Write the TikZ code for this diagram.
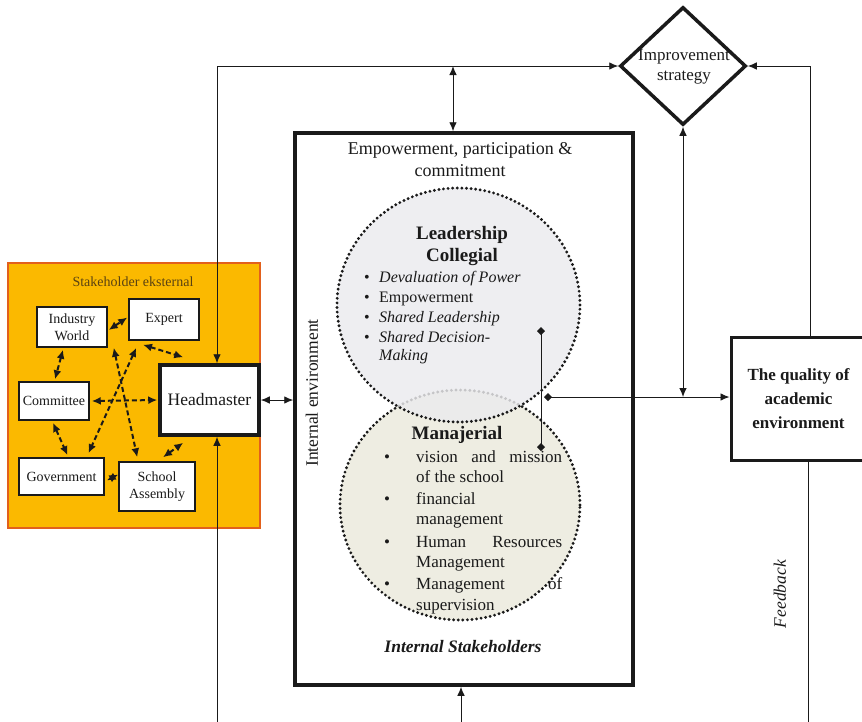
\documentclass[tikz,border=0pt]{standalone}
\usepackage{fontspec}
\setmainfont{Liberation Serif}
\usetikzlibrary{arrows.meta,shapes.geometric,calc}

\definecolor{stkfill}{HTML}{FBB900}
\definecolor{stkedge}{HTML}{E2601C}
\definecolor{stktext}{HTML}{5A4212}
\definecolor{leadfill}{HTML}{EBEBEE}
\definecolor{manfill}{HTML}{EEEDE2}
\definecolor{ink}{HTML}{1A1A1A}

\newcommand\fsz[2]{\fontsize{#1}{#2}\selectfont}

\tikzset{
  ah/.tip={Latex[length=9pt,width=7.5pt]},
  dh/.tip={Latex[length=9pt,width=8pt]},
  mk/.tip={Turned Square[length=8pt,width=8pt]},
  smallbox/.style={draw=ink, line width=1.5pt, fill=white, inner sep=1pt,
    align=center, text=ink, font=\fsz{14}{16.5}},
  bigbox/.style={draw=ink, line width=3.5pt, fill=white, inner sep=0pt, align=center, text=ink},
  dasharrow/.style={draw=ink, line width=2pt, dash pattern=on 5pt off 3pt, {dh}-{dh}},
  link/.style={draw=ink, line width=0.9pt},
  dotring/.style={draw=ink, line width=3.2pt, dash pattern=on 0pt off 4.6pt, line cap=round, ellipse, inner sep=0pt},
  txt/.style={inner sep=0pt, text=ink},
  item/.style={txt, anchor=base west, font=\fsz{16}{19}},
  mitem/.style={txt, anchor=base west, font=\fsz{17}{20}},
}

\begin{document}
\begin{tikzpicture}[x=1pt,y=-1pt]
\useasboundingbox (0,0) rectangle (862,721);

% ---------- external stakeholders ----------
\node[draw=stkedge, fill=stkfill, line width=1.2pt, minimum width=252, minimum height=265, inner sep=0pt] (ext) at (134,395.5) {};
\node[txt, text=stktext, font=\fsz{14}{16}] (extlbl) at (133,282) {Stakeholder eksternal};

\node[smallbox, minimum width=70, minimum height=40] (iw)  at (72,327)    {Industry\\World};
\node[smallbox, minimum width=70, minimum height=41] (ex)  at (164,319.5) {Expert};
\node[smallbox, minimum width=70, minimum height=38] (com) at (54,401)    {Committee};
\node[smallbox, minimum width=85, minimum height=37] (gov) at (61.5,476.5) {Government};
\node[smallbox, minimum width=76, minimum height=49] (sa)  at (157,486.5) {School\\Assembly};
\node[bigbox, minimum width=99, minimum height=70, font=\fsz{17.5}{20}] (hm) at (209.5,400) {Headmaster};

% dashed relations between stakeholders
\draw[dasharrow] ($(iw.east)+(1,3)$) -- ($(ex.west)+(-1,-2)$);
\draw[dasharrow] ($(iw.south)+(-9,2)$) -- ($(com.north)+(1,-2)$);
\draw[dasharrow] ($(com.east)+(2,0)$) -- ($(hm.west)+(-1,0)$);
\draw[dasharrow] ($(com.south)+(-1,2)$) -- ($(gov.north)+(6,-2)$);
\draw[dasharrow] ($(gov.east)+(2,4)$) -- ($(sa.west)+(0,-12)$);
\draw[dasharrow] ($(sa.north)+(6,-4)$) -- ($(hm.south west)+(25,6)$);
\draw[dasharrow] ($(ex.south)+(-21,4)$) -- ($(hm.north west)+(25,-6)$);
\draw[dasharrow] ($(ex.south west)+(8,7)$) -- ($(gov.north)+(27,-4)$);
\draw[dasharrow] ($(iw.south east)+(6,0)$) -- ($(sa.north west)+(19,-4)$);

% ---------- internal environment ----------
\node[bigbox, minimum width=338, minimum height=552] (int) at (464,409) {};

\node[txt, font=\fsz{18}{21}, anchor=base] (e1) at (460,154) {Empowerment, participation \&};
\node[txt, font=\fsz{18}{21}, anchor=base] (e2) at (460,176) {commitment};

\node[dotring, fill=manfill, minimum width=240, minimum height=230] (man) at (460,505) {};
\node[dotring, fill=leadfill, fill opacity=0.82, minimum width=243, minimum height=234] (lead) at (458.5,305) {};

\node[txt, font=\bfseries\fsz{19}{22}, anchor=base] (lt1) at (462,239) {Leadership};
\node[txt, font=\bfseries\fsz{19}{22}, anchor=base] (lt2) at (462,261) {Collegial};
\node[item] (u1) at (364,282) {\makebox[15pt][l]{\textbullet}\textit{Devaluation of Power}};
\node[item] (u2) at (364,302) {\makebox[15pt][l]{\textbullet}Empowerment};
\node[item] (u3) at (364,322) {\makebox[15pt][l]{\textbullet}\textit{Shared Leadership}};
\node[item] (u4) at (364,342) {\makebox[15pt][l]{\textbullet}\textit{Shared Decision-}};
\node[item] (u5) at (379,360) {\textit{Making}};

\node[txt, font=\bfseries\fsz{19}{22}, anchor=base] (mt) at (457,439) {Manajerial};
\node[mitem] (m1) at (384,462.5) {\makebox[32pt][l]{\textbullet}\makebox[146pt][s]{vision and mission}};
\node[mitem] (m2) at (416,482.5) {of the school};
\node[mitem] (m3) at (384,504.5) {\makebox[32pt][l]{\textbullet}financial};
\node[mitem] (m4) at (416,524.5) {management};
\node[mitem] (m5) at (384,547.5) {\makebox[32pt][l]{\textbullet}\makebox[146pt][s]{Human Resources}};
\node[mitem] (m6) at (416,567.5) {Management};
\node[mitem] (m7) at (384,589.5) {\makebox[32pt][l]{\textbullet}\makebox[146pt][s]{Management of}};
\node[mitem] (m8) at (416,610.5) {supervision};

\node[txt, font=\bfseries\itshape\fsz{17.5}{20}, anchor=base] (ist) at (463,652) {Internal Stakeholders};
\node[txt, font=\fsz{17.5}{20}, rotate=90] (ienv) at (312,393) {Internal environment};

% ---------- strategy and outcome ----------
\node[draw=ink, line width=3.5pt, diamond, minimum width=126, minimum height=118, inner sep=0pt] (imp) at (683,66) {};
\node[txt, font=\fsz{17}{20}, align=center] (impt) at (684,67) {Improvement\\strategy};

\node[draw=ink, line width=3pt, fill=white, minimum width=135, minimum height=123, inner sep=0pt,
      align=center, text=ink, font=\bfseries\fsz{17}{24}] (q) at (798.5,398.5) {The quality of\\academic\\environment};

\node[txt, font=\itshape\fsz{17.5}{20}, rotate=90] (fbt) at (780,594) {Feedback};

% ---------- connectors ----------
\coordinate (tj) at (453,66);
\coordinate (bl) at (217,723);
\coordinate (bm) at (461,723);
\coordinate (fb) at (808,723);
\coordinate (va) at (541,327);
\coordinate (vb) at (541,451);
\coordinate (hs) at (544,397);

\draw[link, {ah}-{ah}] (imp.west) -| ($(hm.north)+(7.5,0)$);
\draw[link, -{ah}] (bl) -- (bl |- hm.south);
\draw[link, {ah}-{ah}] (hm.east) -- (hm.east -| int.west);
\draw[link, {ah}-{ah}] (tj) -- (tj |- int.north);
\draw[link, -{ah}] (bm) -- (bm |- int.south);

\draw[link, {mk}-{mk}] (va) -- (vb);
\draw[link, {mk}-{ah}] (hs) -- (hs -| q.west);
\draw[link, {ah}-{ah}] (imp.south) -- (imp.south |- hs);

\draw[link, -{ah}] ($(q.north)+(11.5,0)$) |- (imp.east);
\draw[link] (fb |- q.south) -- (fb);
\end{tikzpicture}
\end{document}
